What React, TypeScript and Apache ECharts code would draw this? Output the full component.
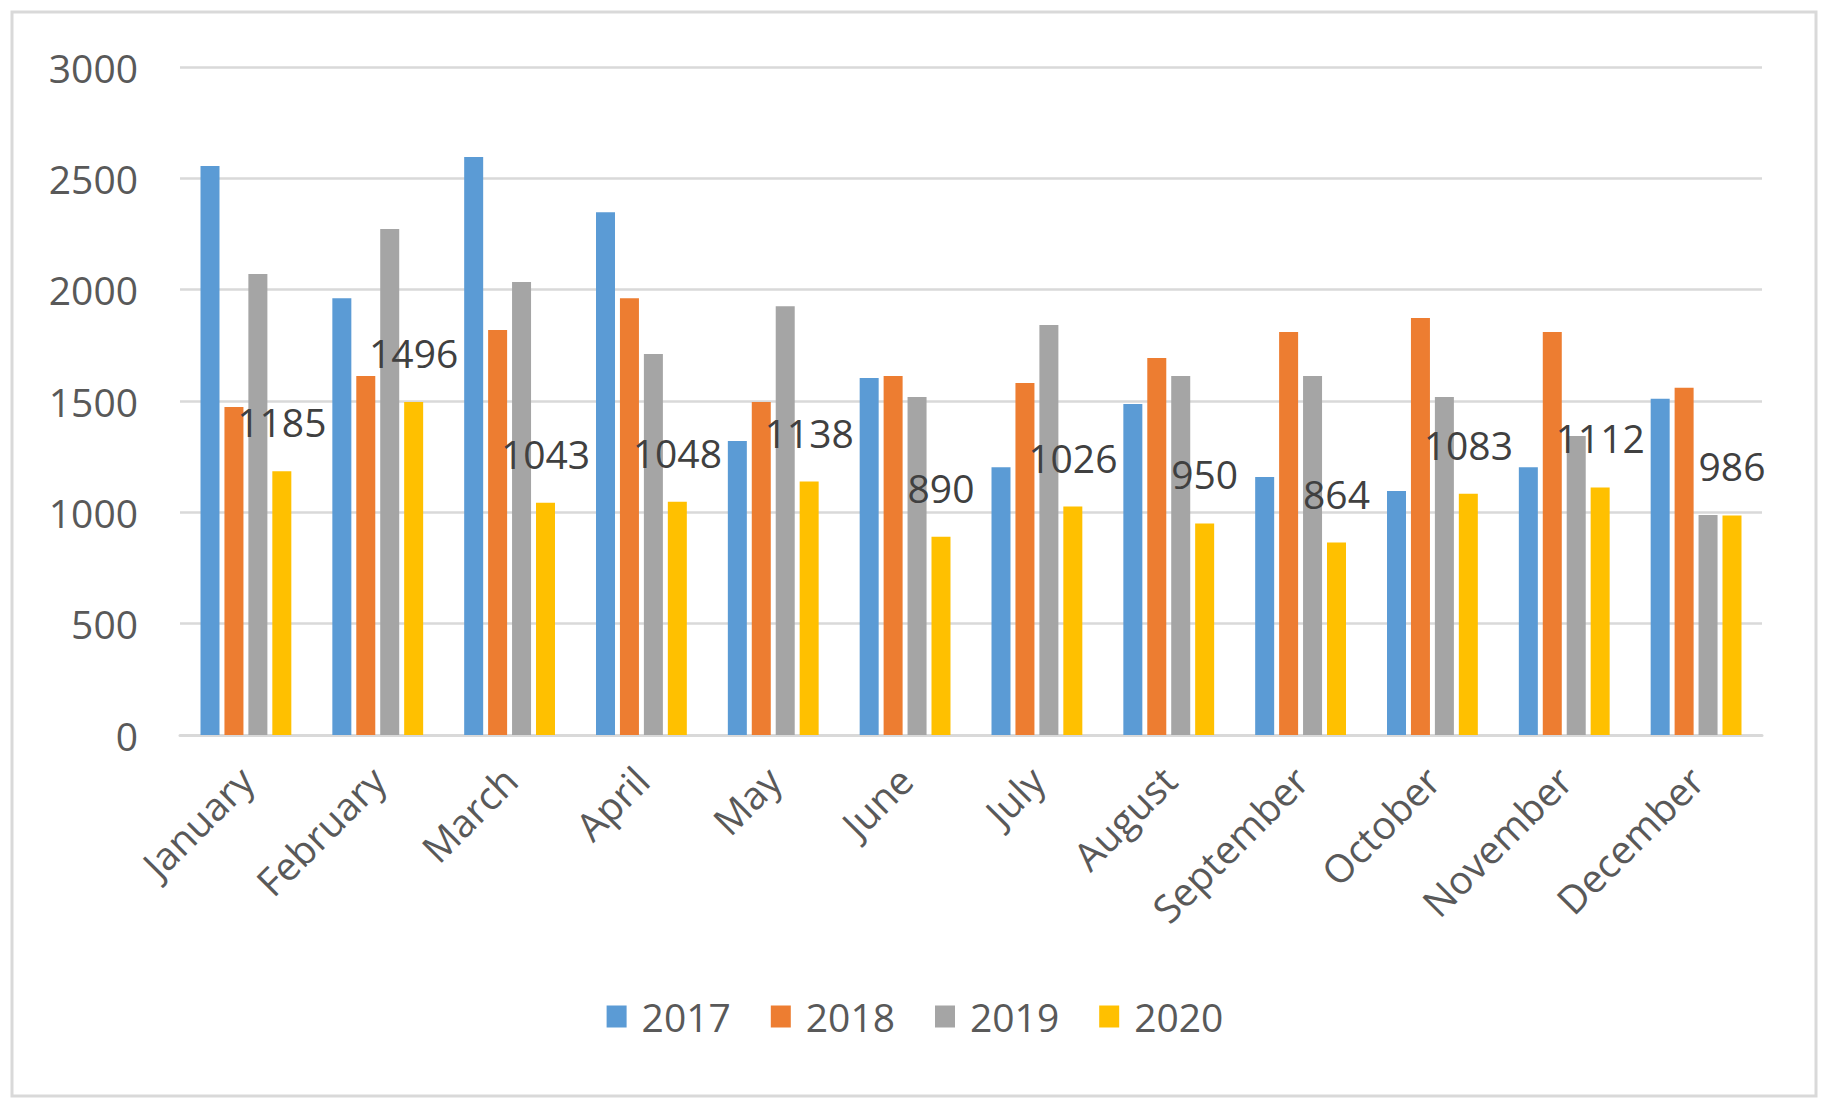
import React, { useEffect, useRef } from "react";
import * as echarts from "echarts";

const months = ["January", "February", "March", "April", "May", "June", "July", "August", "September", "October", "November", "December"];
const years = ["2017", "2018", "2019", "2020"];
const v2017 = [2555, 1962, 2596, 2348, 1320, 1603, 1203, 1486, 1159, 1096, 1203, 1510];
const v2018 = [1473, 1612, 1819, 1962, 1496, 1612, 1581, 1693, 1810, 1873, 1810, 1559];
const v2019 = [2070, 2272, 2034, 1711, 1926, 1518, 1841, 1612, 1612, 1518, 1343, 988];
const v2020 = [1185, 1496, 1043, 1048, 1138, 890, 1026, 950, 864, 1083, 1112, 986];
const colors = ["#5B9BD5", "#ED7D31", "#A5A5A5", "#FFC000"];
const yTicks = [0, 500, 1000, 1500, 2000, 2500, 3000];

const FONT = "'Open Sans', sans-serif";
const TEXT = "#595959";

export default function App() {
  const ref = useRef<HTMLDivElement>(null);
  useEffect(() => {
    if (!ref.current) return;
    const chart = echarts.init(ref.current, undefined, { renderer: "svg" });
    const values = [v2017, v2018, v2019, v2020];
    chart.setOption({
      animation: false,
      backgroundColor: "#ffffff",
      textStyle: { fontFamily: FONT },
      graphic: [
        {
          type: "rect",
          shape: { x: 12, y: 12, width: 1804, height: 1084 },
          style: { fill: "none", stroke: "#d9d9d9", lineWidth: 3 },
          silent: true,
        },
      ],
      legend: {
        data: years,
        top: 992,
        left: "center",
        icon: "rect",
        itemWidth: 20,
        itemHeight: 22,
        itemGap: 40,
        textStyle: { fontSize: 39, color: TEXT, fontFamily: FONT, padding: [0, 0, 0, 10] },
      },
      grid: { left: 180, right: 68, top: 67, bottom: 373, containLabel: false },
      xAxis: {
        type: "category",
        data: months,
        axisLine: { show: true, lineStyle: { color: "#d9d9d9", width: 3 } },
        axisTick: { show: false },
        axisLabel: { rotate: 45, fontSize: 39, color: TEXT, fontFamily: FONT, margin: 38, interval: 0 },
      },
      yAxis: {
        type: "value",
        min: yTicks[0],
        max: yTicks[yTicks.length - 1],
        interval: 500,
        axisLine: { show: false },
        axisTick: { show: false },
        axisLabel: { fontSize: 39, color: TEXT, fontFamily: FONT, margin: 42, formatter: (v: number) => String(v) },
        splitLine: { lineStyle: { color: "#d9d9d9", width: 2.5 } },
      },
      series: years.map((y, i) => ({
        name: y,
        type: "bar",
        data: values[i],
        barWidth: 19,
        barGap: "26%",
        itemStyle: { color: colors[i] },
        label:
          i === 3
            ? { show: true, position: "top", distance: 30, fontSize: 39, color: "#404040", fontFamily: FONT }
            : { show: false },
      })),
    });
    return () => chart.dispose();
  }, []);
  return <div ref={ref} style={{ position: "absolute", left: 0, top: 0, width: 1830, height: 1108 }} />;
}
